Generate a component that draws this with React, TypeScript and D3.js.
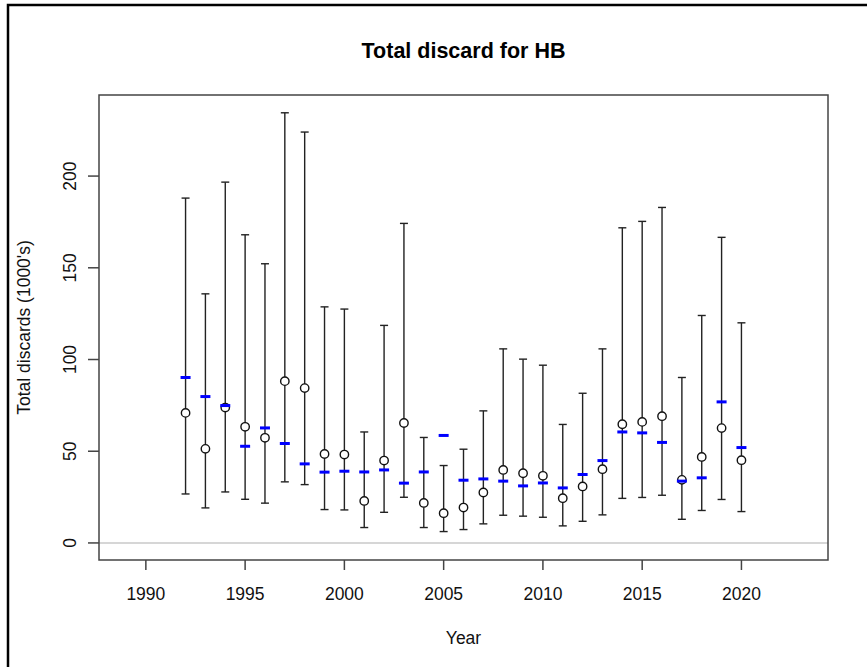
import React from 'react';
import * as d3 from 'd3';

// values (thousands)
const years = [1992, 1993, 1994, 1995, 1996, 1997, 1998, 1999, 2000, 2001, 2002, 2003, 2004, 2005, 2006,
  2007, 2008, 2009, 2010, 2011, 2012, 2013, 2014, 2015, 2016, 2017, 2018, 2019, 2020];
const estimate = [70.9, 51.3, 73.8, 63.3, 57.3, 88.2, 84.4, 48.5, 48.2, 22.9, 44.9, 65.4, 21.8, 16.2, 19.3,
  27.5, 39.8, 38.0, 36.6, 24.4, 30.8, 40.2, 64.7, 66.0, 69.1, 34.4, 46.9, 62.6, 45.1];
const lower = [26.7, 19.1, 27.8, 23.8, 21.7, 33.3, 31.8, 18.2, 18.0, 8.4, 16.7, 24.9, 8.4, 6.2, 7.3,
  10.4, 15.1, 14.6, 14.0, 9.3, 11.8, 15.3, 24.3, 24.8, 26.0, 12.9, 17.7, 23.7, 17.1];
const upper = [188.0, 135.8, 196.7, 168.0, 152.2, 234.5, 224.0, 128.7, 127.5, 60.5, 118.6, 174.2, 57.5, 42.2, 51.1,
  72.0, 105.8, 100.2, 96.9, 64.6, 81.6, 105.8, 171.8, 175.3, 182.9, 90.2, 124.0, 166.6, 120.0];
const observed = [90.2, 79.8, 74.9, 52.7, 62.7, 54.2, 43.1, 38.6, 39.1, 38.7, 39.8, 32.6, 38.7, 58.6, 34.2,
  34.9, 33.7, 31.1, 32.7, 30.0, 37.3, 44.9, 60.5, 60.0, 54.8, 33.7, 35.5, 76.9, 52.0];
const xTicks = [1990, 1995, 2000, 2005, 2010, 2015, 2020];
const yTicks = [0, 50, 100, 150, 200];

const W = 867;
const H = 667;
const margin = { top: 95, right: 39, bottom: 107, left: 99 };
const font = 'Arial, "Liberation Sans", Helvetica, sans-serif';

const App: React.FC = () => {
  const x = d3.scaleLinear().domain([1987.64, 2024.36]).range([margin.left, W - margin.right]);
  const y = d3.scaleLinear().domain([-9.3, 244.2]).range([H - margin.bottom, margin.top]);
  const axisCol = '#444';

  return (
    <svg width={W} height={H} style={{ position: 'absolute', left: 0, top: 0, background: '#fff' }}
      fontFamily={font}>
      {/* outer frame */}
      <rect x={8} y={5} width={W + 20} height={H + 20} fill="none" stroke="#000" strokeWidth={2.5} />

      <text x={(margin.left + W - margin.right) / 2} y={58} textAnchor="middle" fontSize={21.5}
        fontWeight="bold">Total discard for HB</text>

      {/* zero line */}
      <line x1={margin.left} x2={W - margin.right} y1={y(0)} y2={y(0)} stroke="#c8c8c8" strokeWidth={1.5} />

      {/* error bars */}
      {years.map((yr, i) => (
        <g key={'e' + yr} stroke="#222" strokeWidth={1.4}>
          <line x1={x(yr)} x2={x(yr)} y1={y(lower[i])} y2={y(upper[i])} />
          <line x1={x(yr) - 4} x2={x(yr) + 4} y1={y(lower[i])} y2={y(lower[i])} />
          <line x1={x(yr) - 4} x2={x(yr) + 4} y1={y(upper[i])} y2={y(upper[i])} />
        </g>
      ))}

      {years.map((yr, i) => (
        <circle key={'c' + yr} cx={x(yr)} cy={y(estimate[i])} r={4.2} fill="#fff" stroke="#111" strokeWidth={1.4} />
      ))}

      {years.map((yr, i) => (
        <line key={'o' + yr} x1={x(yr) - 5} x2={x(yr) + 5} y1={y(observed[i])} y2={y(observed[i])}
          stroke="#0000ff" strokeWidth={3} />
      ))}

      {/* plot box */}
      <rect x={margin.left} y={margin.top} width={W - margin.left - margin.right}
        height={H - margin.top - margin.bottom} fill="none" stroke={axisCol} strokeWidth={1.5} />

      {/* x axis */}
      {xTicks.map(t => (
        <g key={'x' + t}>
          <line x1={x(t)} x2={x(t)} y1={H - margin.bottom} y2={H - margin.bottom + 10} stroke={axisCol} strokeWidth={1.5} />
          <text x={x(t)} y={599.5} textAnchor="middle" fontSize={17.5} fill="#111">{t}</text>
        </g>
      ))}
      <text x={(margin.left + W - margin.right) / 2} y={643.5} textAnchor="middle" fontSize={17.5} fill="#111">Year</text>

      {/* y axis */}
      {yTicks.map(t => (
        <g key={'y' + t}>
          <line x1={margin.left - 11} x2={margin.left} y1={y(t)} y2={y(t)} stroke={axisCol} strokeWidth={1.5} />
          <text transform={`translate(76,${y(t)}) rotate(-90)`} textAnchor="middle" fontSize={17.5} fill="#111">{t}</text>
        </g>
      ))}
      <text transform={`translate(30,${(margin.top + H - margin.bottom) / 2}) rotate(-90)`} textAnchor="middle"
        fontSize={17.5} fill="#111">Total discards (1000's)</text>
    </svg>
  );
};

export default App;
